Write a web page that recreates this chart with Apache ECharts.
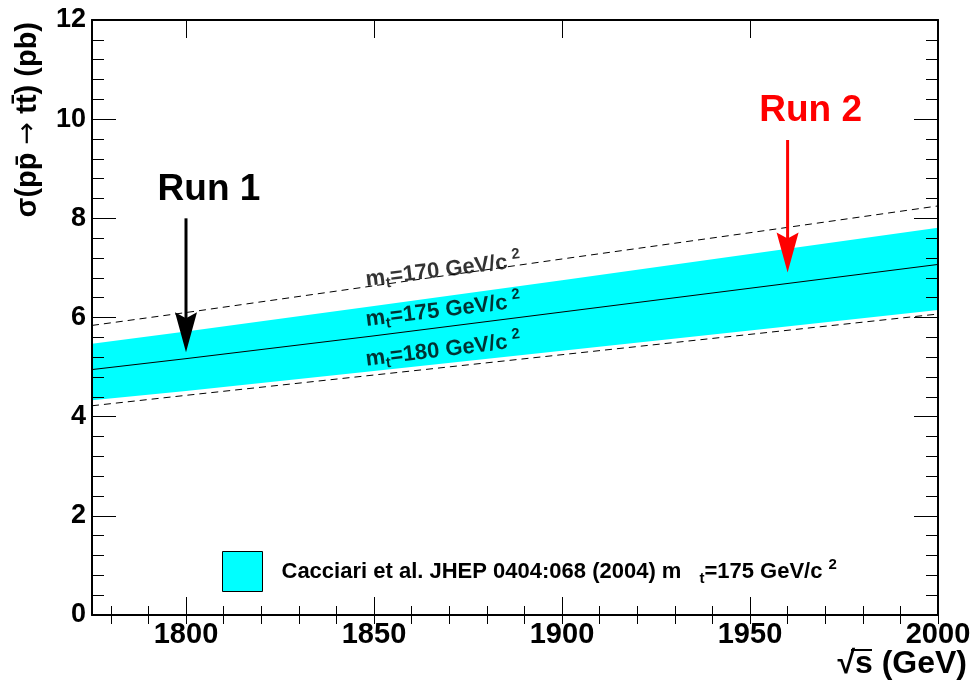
<!DOCTYPE html>
<html>
<head>
<meta charset="utf-8">
<title>ttbar cross section vs sqrt(s)</title>
<script src="https://cdn.jsdelivr.net/npm/echarts@6/dist/echarts.min.js"></script>
<style>
  html, body { margin: 0; padding: 0; background: #fff; }
  #chart { width: 974px; height: 686px; }
</style>
</head>
<body>
<div id="chart"></div>
<script>
// Centre-of-mass energy (GeV) where the curves are sampled
const sqrtS = [1775, 1800, 1850, 1900, 1950, 2000];
// sigma(ppbar -> ttbar) in pb
const sigmaCentral = [4.95, 5.17, 5.63, 6.11, 6.59, 7.07];   // mt = 175
const sigmaBandUp  = [5.47, 5.72, 6.23, 6.75, 7.28, 7.81];   // theory uncertainty, upper edge
const sigmaBandLow = [4.33, 4.52, 4.92, 5.33, 5.74, 6.15];   // theory uncertainty, lower edge
const sigmaMt170   = [5.84, 6.10, 6.64, 7.18, 7.71, 8.25];   // mt = 170
const sigmaMt180   = [4.22, 4.43, 4.84, 5.25, 5.66, 6.07];   // mt = 180

// Tevatron runs
const runNames  = ['Run 1', 'Run 2'];
const runEnergy = [1800, 1960];
const runArrowTop = [8.0, 9.58];
const runArrowTip = [5.30, 6.91];
const runColors = ['#000000', '#ff0000'];

// Curve annotations
const mtValues = ['170', '175', '180'];
const mtLabelAnchor = [[1868.4, 6.95], [1868.4, 6.14], [1868.4, 5.34]];

// Axis ticks
const xMajorTicks = [1800, 1850, 1900, 1950, 2000];
const xMinorTicks = [1780, 1790, 1800, 1810, 1820, 1830, 1840, 1850, 1860, 1870, 1880, 1890,
                     1900, 1910, 1920, 1930, 1940, 1950, 1960, 1970, 1980, 1990, 2000];

const legendName = 'Cacciari et al. JHEP 0404:068 (2004)';
const FONT = '"Liberation Sans", Arial, Helvetica, sans-serif';

const chart = echarts.init(document.getElementById('chart'), null, { renderer: 'canvas' });

const frameLine = { show: true, onZero: false, lineStyle: { color: '#000', width: 2 } };

function xAxisDef(position, values, len, withLabels, withLine) {
  return {
    type: 'value', position: position, min: 1775, max: 2000, z: 5,
    axisLine: withLine ? frameLine : { show: false },
    splitLine: { show: false },
    axisTick: { show: true, inside: true, length: len, customValues: values,
                lineStyle: { color: '#000', width: 1 } },
    axisLabel: withLabels ? {
      show: true, customValues: xMajorTicks, margin: 5,
      formatter: v => String(v),
      fontFamily: FONT, fontWeight: 'bold', fontSize: 29, color: '#000'
    } : { show: false }
  };
}

function yAxisDef(position, withLabels) {
  return {
    type: 'value', position: position, min: 0, max: 12, interval: 2, z: 5,
    axisLine: frameLine,
    splitLine: { show: false },
    axisTick: { show: true, inside: true, length: 24, lineStyle: { color: '#000', width: 1 } },
    minorTick: { show: true, splitNumber: 5, length: 12, lineStyle: { color: '#000', width: 1 } },
    axisLabel: withLabels ? {
      show: true, margin: 6, formatter: v => String(v),
      fontFamily: FONT, fontWeight: 'bold', fontSize: 27, color: '#000'
    } : { show: false }
  };
}

const lineRich = {
  m: { fontFamily: FONT, fontWeight: 'bold', fontSize: 22, color: '#000' },
  s: { fontFamily: FONT, fontWeight: 'bold', fontSize: 15, color: '#000', padding: [12, 0, 0, 0] },
  b: { fontFamily: FONT, fontWeight: 'bold', fontSize: 22, color: '#000' },
  p: { fontFamily: FONT, fontWeight: 'bold', fontSize: 15, color: '#000', padding: [0, 0, 14, 5] }
};

const legendRich = {
  g: { width: 14 },
  a: { fontFamily: FONT, fontWeight: 'bold', fontSize: 22, color: '#000' },
  s: { fontFamily: FONT, fontWeight: 'bold', fontSize: 15, color: '#000', padding: [14, 0, 0, 18] },
  p: { fontFamily: FONT, fontWeight: 'bold', fontSize: 15, color: '#000', padding: [0, 0, 14, 6] }
};

const option = {
  backgroundColor: '#ffffff',
  animation: false,
  grid: { left: 92, right: 36, top: 20, bottom: 71, containLabel: false },
  xAxis: [
    xAxisDef('bottom', xMajorTicks, 18, true, true),
    xAxisDef('bottom', xMinorTicks, 9, false, false),
    xAxisDef('top', xMajorTicks, 18, false, true),
    xAxisDef('top', xMinorTicks, 9, false, false)
  ],
  yAxis: [yAxisDef('left', true), yAxisDef('right', false)],
  legend: {
    show: true,
    left: 222, top: 551, padding: 0,
    itemWidth: 40, itemHeight: 40,
    data: [{ name: legendName, icon: 'rect',
             itemStyle: { color: '#00ffff', borderColor: '#000', borderWidth: 1 } }],
    formatter: () => '{g|}{a|' + legendName + ' m}{s|t}{a|=175 GeV/c}{p|2}',
    textStyle: { rich: legendRich },
    selectedMode: false
  },
  series: [
    {
      // uncertainty band between the lower and upper edges
      name: legendName,
      type: 'custom',
      z: 1,
      itemStyle: { color: '#00ffff' },
      data: sqrtS.map((x, i) => [x, sigmaBandLow[i], sigmaBandUp[i]]),
      renderItem: function (params, api) {
        if (params.dataIndex !== 0) return null;
        const pts = [];
        for (let i = 0; i < sqrtS.length; i++) pts.push(api.coord([sqrtS[i], sigmaBandUp[i]]));
        for (let i = sqrtS.length - 1; i >= 0; i--) pts.push(api.coord([sqrtS[i], sigmaBandLow[i]]));
        return { type: 'polygon', shape: { points: pts }, style: { fill: '#00ffff', stroke: null } };
      },
      encode: { x: 0, y: [1, 2] }
    },
    {
      name: 'mt175', type: 'line', z: 2, symbol: 'none', silent: true,
      data: sqrtS.map((x, i) => [x, sigmaCentral[i]]),
      lineStyle: { color: '#000', width: 1 }
    },
    {
      name: 'mt170', type: 'line', z: 2, symbol: 'none', silent: true,
      data: sqrtS.map((x, i) => [x, sigmaMt170[i]]),
      lineStyle: { color: '#000', width: 1, type: [7, 5] }
    },
    {
      name: 'mt180', type: 'line', z: 2, symbol: 'none', silent: true,
      data: sqrtS.map((x, i) => [x, sigmaMt180[i]]),
      lineStyle: { color: '#000', width: 1, type: [7, 5] }
    },
    {
      // top-mass annotations along the curves
      name: 'mtLabels', type: 'scatter', z: 4, silent: true,
      symbolSize: 1, itemStyle: { color: 'rgba(0,0,0,0)' },
      data: mtLabelAnchor,
      label: {
        show: true, position: 'inside', rotate: 7,
        formatter: p => '{m|m}{s|t}{b|=' + mtValues[p.dataIndex] + ' GeV/c}{p|2}',
        rich: lineRich
      }
    },
    {
      // Run 1 / Run 2 arrows
      name: 'runs', type: 'custom', z: 4, silent: true,
      data: runEnergy.map((e, i) => [e, runArrowTop[i], runArrowTip[i], i]),
      encode: { x: 0, y: [1, 2] },
      renderItem: function (params, api) {
        const i = api.value(3);
        const top = api.coord([api.value(0), api.value(1)]);
        const tip = api.coord([api.value(0), api.value(2)]);
        const c = runColors[i];
        return {
          type: 'group',
          children: [
            { type: 'line', shape: { x1: top[0], y1: top[1], x2: tip[0], y2: tip[1] - 30 },
              style: { stroke: c, lineWidth: 3 } },
            { type: 'polygon',
              shape: { points: [[tip[0], tip[1]], [tip[0] - 11, tip[1] - 40],
                                [tip[0], tip[1] - 34], [tip[0] + 11, tip[1] - 40]] },
              style: { fill: c, stroke: null } },
            { type: 'text', x: top[0] + 23, y: top[1] - 29,
              style: { text: runNames[i], fill: c, font: 'bold 37px ' + FONT,
                       align: 'center', verticalAlign: 'middle' } }
          ]
        };
      }
    }
  ],
  graphic: [
    {
      type: 'text', x: 28, y: 22, rotation: Math.PI / 2,
      style: {
        text: '{a|σ(pp\u0304 }{r|→}{a| tt\u0304) (pb)}',
        align: 'right', verticalAlign: 'middle',
        rich: {
          a: { fontFamily: FONT, fontWeight: 'bold', fontSize: 29, fill: '#000' },
          r: { fontFamily: '"DejaVu Sans", sans-serif', fontWeight: 'normal', fontSize: 27, fill: '#000' }
        }
      }
    },
    {
      type: 'text', x: 967, y: 664,
      style: { text: '√s (GeV)', fill: '#000', font: 'bold 32px ' + FONT,
               align: 'right', verticalAlign: 'middle' }
    },
    {
      // bar of the square-root sign over "s"
      type: 'line', shape: { x1: 851, y1: 650, x2: 872, y2: 650 },
      style: { stroke: '#000', lineWidth: 2 }
    }
  ]
};

chart.setOption(option);
</script>
</body>
</html>
